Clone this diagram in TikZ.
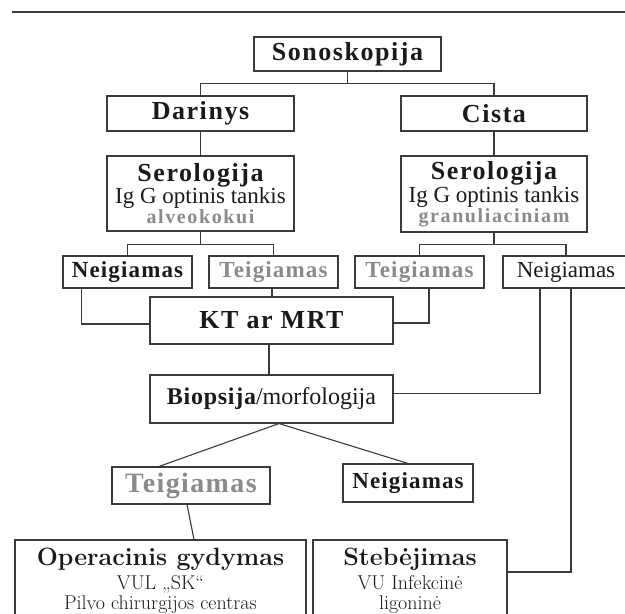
\documentclass[tikz,border=0pt]{standalone}
\usepackage{fontspec}
\usepackage{tikz}
\usetikzlibrary{calc, positioning}
\usepackage{xcolor}
\definecolor{linegray}{HTML}{3A3A3A}
\definecolor{teiggray}{HTML}{8A8A8A}
\definecolor{inkblack}{HTML}{1A1A1A}
\newfontfamily\tmsfont{Liberation Serif}
\newfontfamily\tmshead{Liberation Serif}[LetterSpace=6]
\newfontfamily\tmsrow{Liberation Serif}[LetterSpace=5]
\newfontfamily\tmsgray{Liberation Serif}[LetterSpace=8]
\newfontfamily\tmsnarrow{Liberation Serif}[LetterSpace=3]
\newcommand{\headtxt}{\tmshead\bfseries\fontsize{26}{20}\selectfont}
\newcommand{\plaintxt}{\tmsfont\mdseries\fontsize{23}{20}\selectfont}
\newcommand{\graytxt}{\tmsgray\bfseries\fontsize{20}{20}\selectfont\color{teiggray}}
\newcommand{\rowtxt}{\tmsrow\bfseries\fontsize{23}{20}\selectfont}
\newcommand{\lowhead}{\rmfamily\bfseries\fontsize{25}{20}\selectfont}
\newcommand{\lowtxt}{\rmfamily\mdseries\fontsize{20}{20}\selectfont}
\newcommand{\tightlines}{\fontsize{20}{20}\selectfont\lineskiplimit=-20pt\relax}

\begin{document}
\begin{tikzpicture}[x=1pt, y=-1pt,
    box/.style={draw=linegray, line width=1.1pt, inner sep=0pt, align=center, text=inkblack},
    tight/.style={font=\tightlines},
    conn/.style={draw=linegray, line width=1.1pt}]
  \useasboundingbox (0,0) rectangle (625,614);
  \clip (0,0) rectangle (625,614);

  % --- rule on top ---
  \draw[linegray, line width=1.5pt] (12,12) -- (625,12);

  % --- top levels ---
  \node[box, minimum width=187pt, minimum height=34pt] (sono) at (347.5,54) {\headtxt Sonoskopija};
  \node[box, minimum width=187pt, minimum height=35pt] (darinys) at (200.5,113.5) {\headtxt Darinys};
  \node[box, minimum width=186pt, minimum height=35pt] (cista) at (494,113.5) {\headtxt Cista};

  % --- serology ---
  \node[box, minimum width=187pt, minimum height=75pt] (serL) at (200.5,193.5)
    {\headtxt Serologija\\ \plaintxt Ig G optinis tankis\\ \graytxt alveokokui};
  \node[box, minimum width=186pt, minimum height=76pt] (serR) at (494,194)
    {\headtxt Serologija\\ \plaintxt Ig G optinis tankis\\ \graytxt granuliaciniam};

  % --- results row ---
  \node[box, minimum width=129pt, minimum height=32pt] (negL) at (127.5,272) {\rowtxt Neigiamas};
  \node[box, minimum width=129pt, minimum height=32pt] (teigL) at (273.5,272) {\rowtxt\color{teiggray}Teigiamas};
  \node[box, minimum width=129pt, minimum height=32pt] (teigR) at (419.5,272) {\rowtxt\color{teiggray}Teigiamas};
  \node[box, minimum width=126pt, minimum height=32pt] (negR) at (566,272) {\plaintxt Neigiamas};

  % --- imaging and biopsy ---
  \node[box, minimum width=243pt, minimum height=47pt] (kt) at (271.5,320.5) {\headtxt KT ar MRT};
  \node[box, minimum width=243pt, minimum height=48pt] (bio) at (271.5,399)
    {{\tmsnarrow\bfseries\fontsize{24}{20}\selectfont Biopsija}\tmsfont\fontsize{24}{20}\selectfont/morfologija};

  \node[box, minimum width=158pt, minimum height=37pt] (teigB) at (191,485.5)
    {\tmsrow\bfseries\fontsize{28}{20}\selectfont\color{teiggray}Teigiamas};
  \node[box, minimum width=130pt, minimum height=38pt] (negB) at (408,483) {\rowtxt Neigiamas};

  % --- treatment (boxes run past the bottom edge) ---
  \node[box, tight, minimum width=291pt, minimum height=82pt] (oper) at (160.5,581)
    {\lowhead Operacinis gydymas\\[4pt] \lowtxt VUL „SK“\\ \lowtxt Pilvo chirurgijos centras};
  \node[box, tight, minimum width=194pt, minimum height=82pt] (steb) at (410,581)
    {\lowhead Stebėjimas\\[4pt] \lowtxt VU Infekcinė\\ \lowtxt ligoninė};

  % --- connectors ---
  \coordinate (j1) at ($(sono.south)+(0,12)$);
  \draw[conn] (sono.south) -- (j1);
  \draw[conn] (j1) -| (darinys.north);
  \draw[conn] (j1) -| (cista.north);
  \draw[conn] (darinys.south) -- (serL.north);
  \draw[conn] (cista.south) -- (serR.north);

  \coordinate (j2) at ($(serL.south)+(0,13)$);
  \draw[conn] (serL.south) -- (j2);
  \draw[conn] (j2) -| (negL.north);
  \draw[conn] (j2) -| (teigL.north);
  \coordinate (j3) at ($(serR.south)+(0,12)$);
  \draw[conn] (serR.south) -- (j3);
  \draw[conn] (j3) -| (teigR.north);
  \draw[conn] (j3) -| (negR.north);

  \draw[conn] ([xshift=19pt]negL.south west) |- ([yshift=-3.5pt]kt.west);
  \draw[conn] ([xshift=-1.5pt]teigL.south) -- ([xshift=-1.5pt]teigL.south |- kt.north);
  \draw[conn] ([xshift=9.5pt]teigR.south) |- ([yshift=-2.5pt]kt.east);
  \draw[conn] ([xshift=-2.5pt]kt.south) -- ([xshift=-2.5pt]bio.north);
  \draw[conn] ([xshift=-26pt]negR.south) |- ([yshift=5.5pt]bio.east);
  \draw[conn] ([xshift=5pt]negR.south) |- ([yshift=9pt]steb.east);

  \draw[conn] ([xshift=7.5pt]bio.south) -- ([xshift=-32pt]teigB.north);
  \draw[conn] ([xshift=7.5pt]bio.south) -- (negB.north);
  \draw[conn] ([xshift=-4pt]teigB.south) -- ([xshift=33.5pt]oper.north);
\end{tikzpicture}
\end{document}
